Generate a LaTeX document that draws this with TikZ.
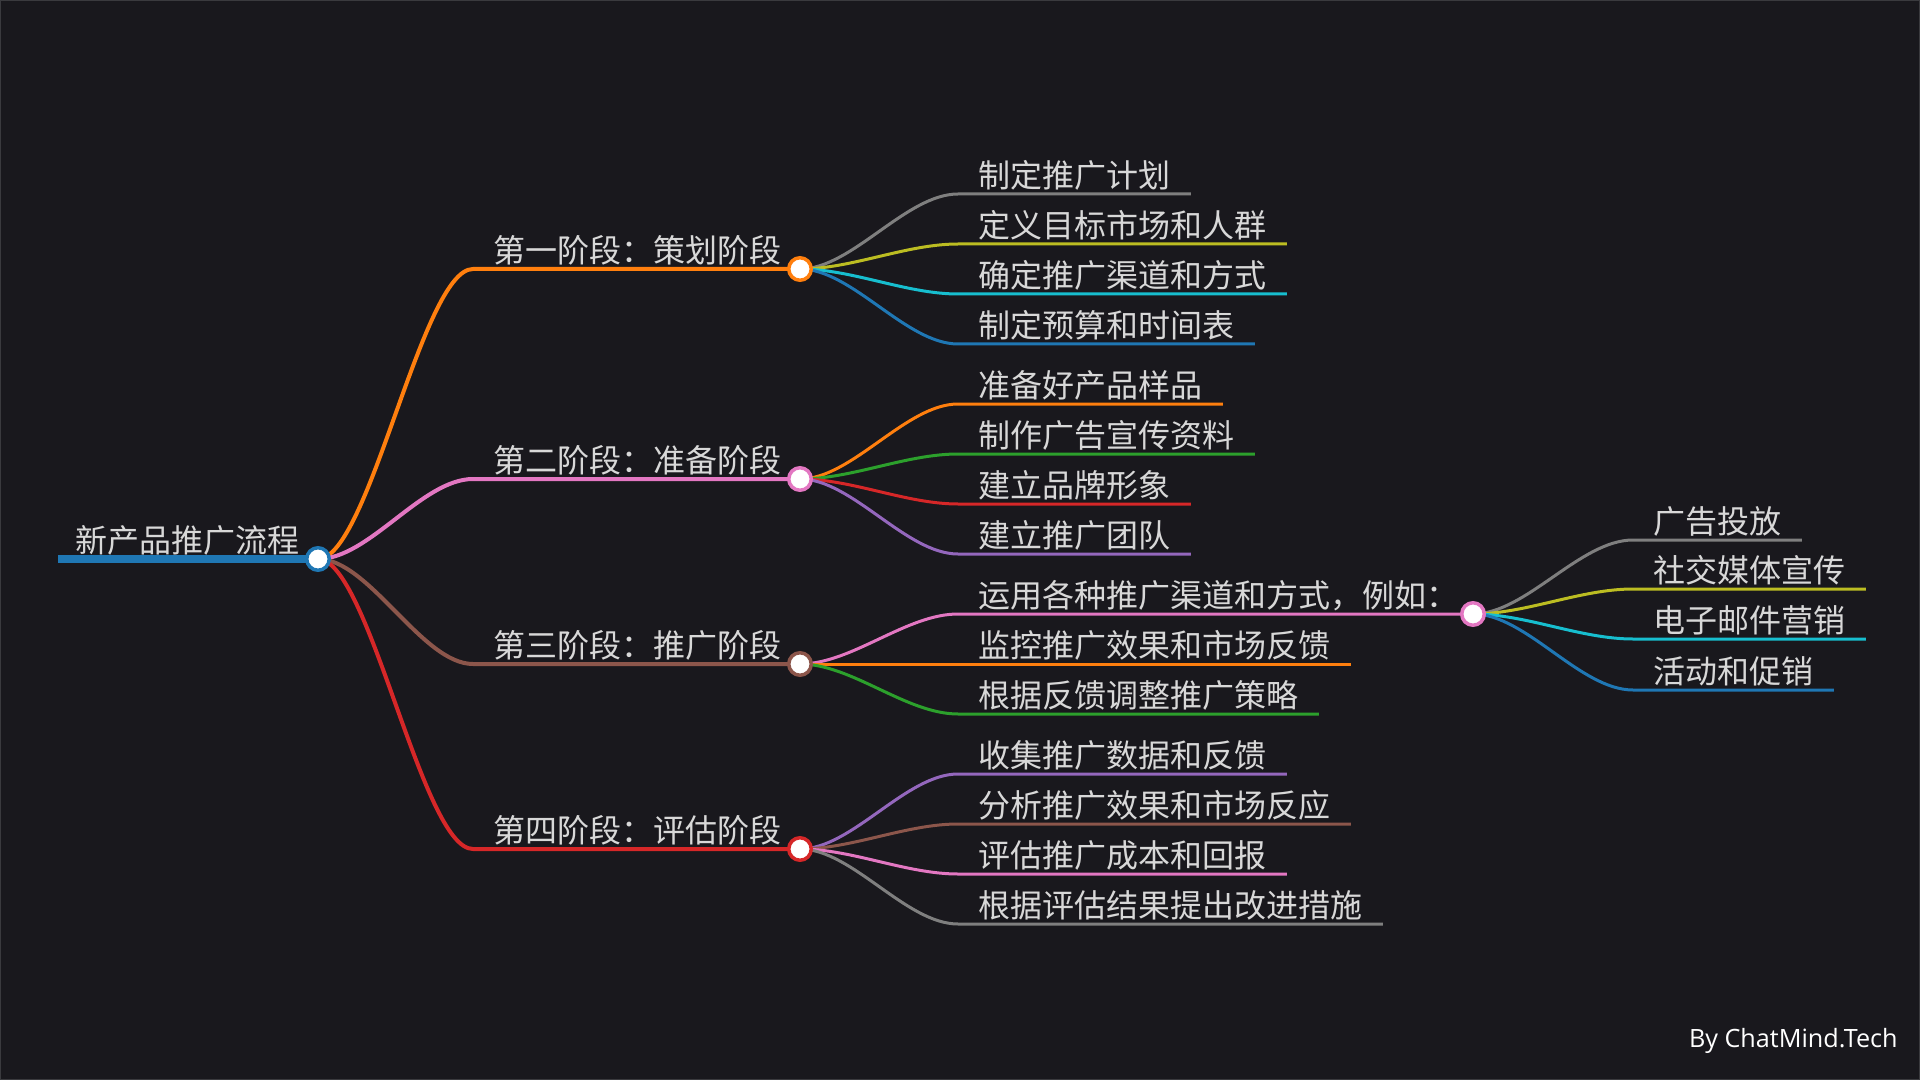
\documentclass[tikz,border=0pt]{standalone}
\usepackage{fontspec}
\setmainfont{Noto Sans CJK SC}
\newfontfamily\wmfont{Open Sans}
\definecolor{bgc}{HTML}{19181D}
\definecolor{txtc}{HTML}{D8D8D8}
\definecolor{cblue}{HTML}{1F77B4}
\definecolor{corange}{HTML}{FF7F0E}
\definecolor{cgreen}{HTML}{2CA02C}
\definecolor{cred}{HTML}{D62728}
\definecolor{cpurple}{HTML}{9467BD}
\definecolor{cbrown}{HTML}{8C564B}
\definecolor{cpink}{HTML}{E377C2}
\definecolor{cgray}{HTML}{7F7F7F}
\definecolor{colive}{HTML}{BCBD22}
\definecolor{ccyan}{HTML}{17BECF}
\begin{document}
\begin{tikzpicture}[x=0.5pt,y=-0.5pt,
  txt/.style={text=txtc, font=\fontsize{16}{18}\selectfont, inner xsep=10pt, inner ysep=3pt, text depth=0pt, anchor=south west},
  roottxt/.style={txt, inner xsep=8.5pt},
  dot/.style={circle, fill=white, draw=#1, line width=1.75pt, minimum size=11.25pt, inner sep=0pt},
  br/.style={draw=#1, line width=2pt},
  lf/.style={draw=#1, line width=1.5pt},
  wm/.style={text=white, font=\wmfont\fontsize{12.6}{14}\selectfont, inner sep=0pt, anchor=base east}]
\fill[bgc] (0,0) rectangle (1920,1080);
\draw[draw={rgb,255:red,58;green,58;blue,62}, line width=0.5pt] (0.5,0.5) rectangle (1919.5,1079.5);
\useasboundingbox (0,0) rectangle (1920,1080);

% root
\node[roottxt] (root) at (58,559) {新产品推广流程};
\coordinate (rcp) at (318,559);

% level 1 texts
\node[txt] (s1) at (473,269) {第一阶段：策划阶段};
\node[txt] (s2) at (473,479) {第二阶段：准备阶段};
\node[txt] (s3) at (473,664) {第三阶段：推广阶段};
\node[txt] (s4) at (473,849) {第四阶段：评估阶段};
\coordinate (c1p) at (800,269);
\coordinate (c2p) at (800,479);
\coordinate (c3p) at (800,664);
\coordinate (c4p) at (800,849);

% leaves stage 1
\node[txt] (a1) at (958,194) {制定推广计划};
\node[txt] (a2) at (958,244) {定义目标市场和人群};
\node[txt] (a3) at (958,294) {确定推广渠道和方式};
\node[txt] (a4) at (958,344) {制定预算和时间表};
% stage 2
\node[txt] (b1) at (958,404) {准备好产品样品};
\node[txt] (b2) at (958,454) {制作广告宣传资料};
\node[txt] (b3) at (958,504) {建立品牌形象};
\node[txt] (b4) at (958,554) {建立推广团队};
% stage 3
\node[txt] (d1) at (958,614) {运用各种推广渠道和方式，例如：};
\node[txt] (d2) at (958,664) {监控推广效果和市场反馈};
\node[txt] (d3) at (958,714) {根据反馈调整推广策略};
\coordinate (dcp) at (1473,614);
% sub leaves
\node[txt] (e1) at (1633,540) {广告投放};
\node[txt] (e2) at (1633,589) {社交媒体宣传};
\node[txt] (e3) at (1633,639) {电子邮件营销};
\node[txt] (e4) at (1633,690) {活动和促销};
% stage 4
\node[txt] (f1) at (958,774) {收集推广数据和反馈};
\node[txt] (f2) at (958,824) {分析推广效果和市场反应};
\node[txt] (f3) at (958,874) {评估推广成本和回报};
\node[txt] (f4) at (958,924) {根据评估结果提出改进措施};

% root line
\draw[draw=cblue, line width=4pt] (root.south west) -- (rcp);

% main branches
\draw[br=corange] (rcp) .. controls +(51,0) and +(-51,0) .. (s1.south west) -- (c1p);
\draw[br=cpink] (rcp) .. controls +(51,0) and +(-51,0) .. (s2.south west) -- (c2p);
\draw[br=cbrown] (rcp) .. controls +(51,0) and +(-51,0) .. (s3.south west) -- (c3p);
\draw[br=cred] (rcp) .. controls +(51,0) and +(-51,0) .. (s4.south west) -- (c4p);

% stage 1 leaves
\draw[lf=cgray] (c1p) .. controls +(52,0) and +(-52,0) .. (a1.south west) -- (a1.south east);
\draw[lf=colive] (c1p) .. controls +(52,0) and +(-52,0) .. (a2.south west) -- (a2.south east);
\draw[lf=ccyan] (c1p) .. controls +(52,0) and +(-52,0) .. (a3.south west) -- (a3.south east);
\draw[lf=cblue] (c1p) .. controls +(52,0) and +(-52,0) .. (a4.south west) -- (a4.south east);
% stage 2 leaves
\draw[lf=corange] (c2p) .. controls +(52,0) and +(-52,0) .. (b1.south west) -- (b1.south east);
\draw[lf=cgreen] (c2p) .. controls +(52,0) and +(-52,0) .. (b2.south west) -- (b2.south east);
\draw[lf=cred] (c2p) .. controls +(52,0) and +(-52,0) .. (b3.south west) -- (b3.south east);
\draw[lf=cpurple] (c2p) .. controls +(52,0) and +(-52,0) .. (b4.south west) -- (b4.south east);
% stage 3 leaves
\draw[lf=cpink] (c3p) .. controls +(52,0) and +(-52,0) .. (d1.south west) -- (dcp);
\draw[lf=corange] (c3p) -- (d2.south west) -- (d2.south east);
\draw[lf=cgreen] (c3p) .. controls +(52,0) and +(-52,0) .. (d3.south west) -- (d3.south east);
% sub leaves
\draw[lf=cgray] (dcp) .. controls +(53,0) and +(-53,0) .. (e1.south west) -- (e1.south east);
\draw[lf=colive] (dcp) .. controls +(53,0) and +(-53,0) .. (e2.south west) -- (e2.south east);
\draw[lf=ccyan] (dcp) .. controls +(53,0) and +(-53,0) .. (e3.south west) -- (e3.south east);
\draw[lf=cblue] (dcp) .. controls +(53,0) and +(-53,0) .. (e4.south west) -- (e4.south east);
% stage 4 leaves
\draw[lf=cpurple] (c4p) .. controls +(52,0) and +(-52,0) .. (f1.south west) -- (f1.south east);
\draw[lf=cbrown] (c4p) .. controls +(52,0) and +(-52,0) .. (f2.south west) -- (f2.south east);
\draw[lf=cpink] (c4p) .. controls +(52,0) and +(-52,0) .. (f3.south west) -- (f3.south east);
\draw[lf=cgray] (c4p) .. controls +(52,0) and +(-52,0) .. (f4.south west) -- (f4.south east);

% dots
\node[dot=cblue] (rc) at (rcp) {};
\node[dot=corange] (c1) at (c1p) {};
\node[dot=cpink] (c2) at (c2p) {};
\node[dot=cbrown] (c3) at (c3p) {};
\node[dot=cred] (c4) at (c4p) {};
\node[dot=cpink] (dc) at (dcp) {};

% watermark
\node[wm] (wmk) at (1898,1047) {By ChatMind.Tech};
\end{tikzpicture}
\end{document}
